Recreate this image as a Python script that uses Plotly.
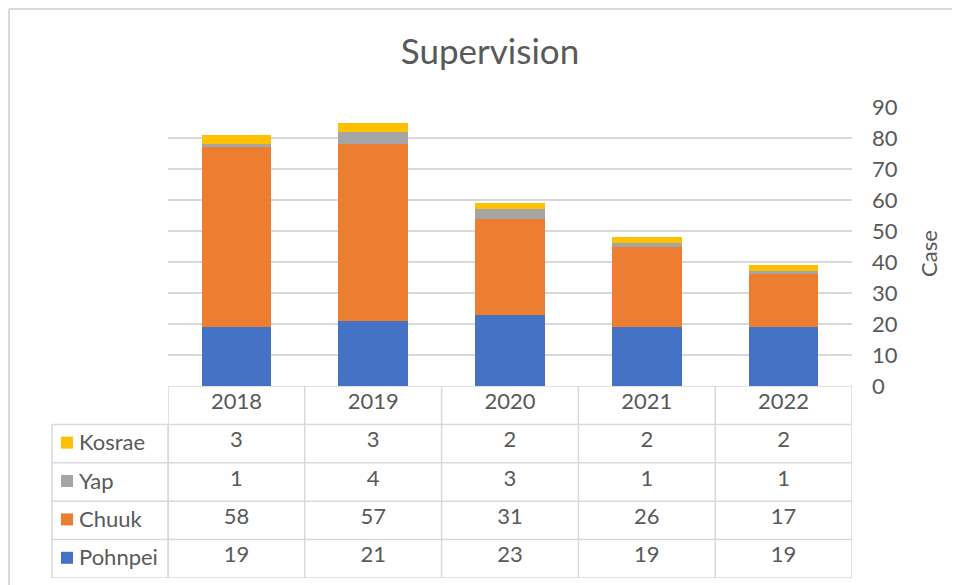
import plotly.graph_objects as go

years = ["2018", "2019", "2020", "2021", "2022"]
pohnpei = [19, 21, 23, 19, 19]
chuuk = [58, 57, 31, 26, 17]
yap = [1, 4, 3, 1, 1]
kosrae = [3, 3, 2, 2, 2]

series = [
    ("Pohnpei", pohnpei, "#4472C4"),
    ("Chuuk", chuuk, "#ED7D31"),
    ("Yap", yap, "#A5A5A5"),
    ("Kosrae", kosrae, "#FFC000"),
]

FONT = "Lato"
TXT = "#595959"
GRID = "#d9d9d9"
FS = 22

# the page adds an 8px body margin, so figure pixels = screenshot pixels - 8
OFF = 8
FW, FH = 960 - OFF, 585 - OFF
L, R, T, B = 168 - OFF, 852 - OFF, 107 - OFF, 578 - OFF
AX0 = 386 - OFF  # y pixel of the value axis zero line
W, H = R - L, B - T
split = (B - AX0) / H
lab_left = (52 - OFF - L) / W
row_h = (B - AX0) / 5


def px(x):
    return (x - OFF - L) / W


def py(y):
    return (B - (y - OFF)) / H


fig = go.Figure()

for name, vals, color in series:
    fig.add_trace(go.Bar(x=years, y=vals, name=name, marker_color=color,
                         marker_line_width=0, width=0.51, yaxis="y",
                         showlegend=False))

# table: rows from top -> header, Kosrae, Yap, Chuuk, Pohnpei
rows = list(reversed(series))
for i, (name, vals, color) in enumerate(rows):
    yc = 3.5 - i
    fig.add_trace(go.Scatter(x=years, y=[yc + 2 / row_h] * len(years), mode="text",
                             text=[str(v) for v in vals], yaxis="y2",
                             textfont=dict(family=FONT, size=FS, color=TXT),
                             showlegend=False, hoverinfo="skip"))
    fig.add_annotation(xref="paper", yref="y2", x=px(77), y=yc + 2 / row_h,
                       text=name, showarrow=False, xanchor="left",
                       font=dict(family=FONT, size=FS, color=TXT))
    fig.add_shape(type="rect", xref="paper", yref="y2",
                  x0=px(61), x1=px(73),
                  y0=yc - 5 / row_h, y1=yc + 7 / row_h,
                  fillcolor=color, line_width=0)

fig.add_trace(go.Scatter(x=years, y=[4.5 + 2 / row_h] * len(years), mode="text",
                         text=years, yaxis="y2",
                         textfont=dict(family=FONT, size=FS, color=TXT),
                         showlegend=False, hoverinfo="skip"))

line = dict(color=GRID, width=1.5)
# vertical lines of value columns
for k in range(len(years) + 1):
    fig.add_shape(type="line", xref="x", yref="y2", x0=k - 0.5, x1=k - 0.5,
                  y0=0, y1=5, line=line)
# label column lines
for xp in (lab_left, 0):
    fig.add_shape(type="line", xref="paper", yref="y2", x0=xp, x1=xp,
                  y0=0, y1=4, line=line)
# horizontal row lines
for k in range(5):
    fig.add_shape(type="line", xref="paper", yref="y2", x0=lab_left, x1=1,
                  y0=k, y1=k, line=line)
fig.add_shape(type="line", xref="paper", yref="y2", x0=0, x1=1,
              y0=5, y1=5, line=line)

# chart area border (only top and left edges are inside the picture)
border = dict(color=GRID, width=2)
fig.add_shape(type="line", xref="paper", yref="paper",
              x0=px(9), x1=px(975), y0=py(9), y1=py(9), line=border)
fig.add_shape(type="line", xref="paper", yref="paper",
              x0=px(9), x1=px(9), y0=py(9), y1=py(600), line=border)

# value axis title
fig.add_annotation(xref="paper", yref="paper", x=px(928), y=py(254),
                   xanchor="center", yanchor="middle",
                   text="Case", textangle=-90, showarrow=False,
                   font=dict(family=FONT, size=FS, color=TXT))

fig.update_layout(
    width=FW, height=FH,
    margin=dict(l=L, r=FW - R, t=T, b=FH - B, autoexpand=False),
    paper_bgcolor="white", plot_bgcolor="white",
    barmode="stack",
    title=dict(text="Supervision", x=(490 - OFF) / FW, xref="container",
               xanchor="center", y=1 - (52 - OFF) / FH, yanchor="middle",
               automargin=False,
               font=dict(family=FONT, size=35, color=TXT)),
    xaxis=dict(type="category", range=[-0.5, 4.5], showticklabels=False,
               showgrid=False, zeroline=False, showline=False, ticks="",
               anchor="y", automargin=False),
    yaxis=dict(domain=[split, 1], range=[0, 90], dtick=10, side="right",
               showgrid=True, gridcolor=GRID, gridwidth=1.5, zeroline=False,
               showline=False, ticks="", ticklabelstandoff=19, automargin=False,
               tickfont=dict(family=FONT, size=FS, color=TXT)),
    yaxis2=dict(domain=[0, split], range=[0, 5], showticklabels=False,
                showgrid=False, zeroline=False, showline=False, ticks="",
                automargin=False),
)

fig.write_html("out.html")
